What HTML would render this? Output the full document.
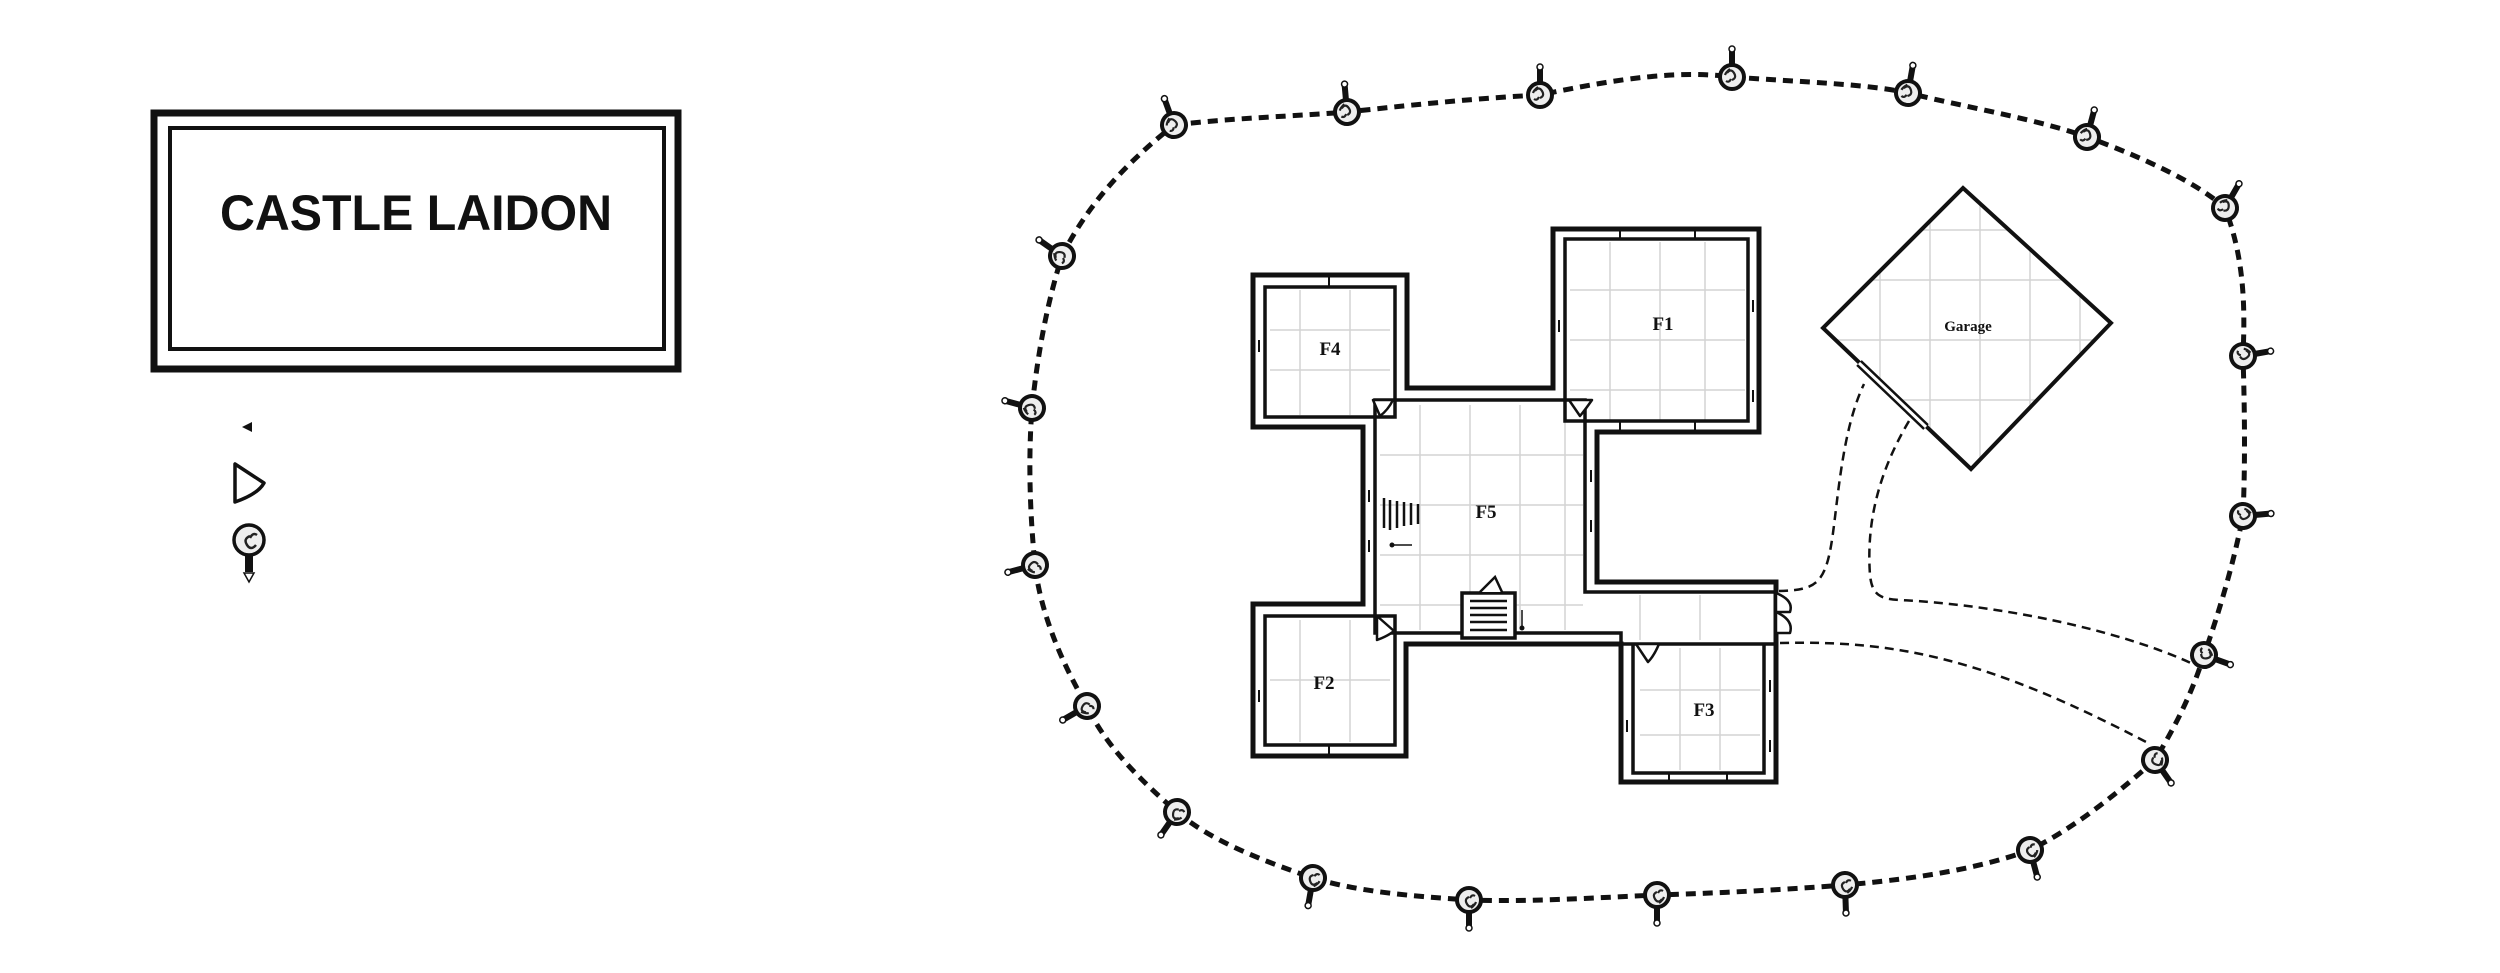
<!DOCTYPE html>
<html><head><meta charset="utf-8"><style>
html,body{margin:0;padding:0;background:#fff;}
svg{display:block;}
</style></head><body>
<svg width="2500" height="973" viewBox="0 0 2500 973" xmlns="http://www.w3.org/2000/svg">
<defs>
<g id="bulb">
  <rect x="-3" y="-27" width="6" height="14" fill="#111"/>
  <circle cx="0" cy="-28" r="3" fill="#fff" stroke="#111" stroke-width="1.5"/>
  <circle cx="0" cy="0" r="12" fill="#eee" stroke="#111" stroke-width="4"/>
  <path d="M-5,-4 q4,-5 7,0 q3,5 -2,7 M-6,4 q3,2 5,-2 M-2,-8 q-4,3 -5,6" fill="none" stroke="#222" stroke-width="2.2"/>
</g>
<clipPath id="gclip"><polygon points="1963,188 2111,323 1971,469 1823,328"/></clipPath>
</defs>

<!-- Title -->
<rect x="154" y="113" width="524" height="256" fill="none" stroke="#111" stroke-width="7"/>
<rect x="170" y="128" width="494" height="221" fill="none" stroke="#111" stroke-width="4"/>
<text x="416" y="230" text-anchor="middle" font-family="Liberation Sans, sans-serif" font-weight="bold" font-size="50" textLength="392" lengthAdjust="spacingAndGlyphs" fill="#111">CASTLE LAIDON</text>

<!-- Legend -->
<polygon points="242,427 252,422 252,432" fill="#111"/>
<path d="M235,464 L235,502 Q258,494 264,483 Z" fill="none" stroke="#111" stroke-width="3.5" stroke-linejoin="round"/>
<g transform="translate(249,540) rotate(180)">
  <rect x="-4" y="-32" width="8" height="20" fill="#111"/>
  <polygon points="-5,-33 5,-33 0,-42" fill="#fff" stroke="#111" stroke-width="1.5"/>
  <circle cx="0" cy="0" r="15" fill="#eee" stroke="#111" stroke-width="3.5"/>
  <path d="M-7,-5 q5,-6 9,0 q4,6 -3,9 M-8,5 q4,3 7,-3" fill="none" stroke="#222" stroke-width="2.5"/>
</g>

<!-- grid lines -->
<g stroke="#d4d4d4" stroke-width="1.5" fill="none">
  <path d="M1300,290 V415 M1350,290 V415 M1270,330 H1390 M1270,370 H1390"/>
  <path d="M1610,242 V420 M1660,242 V420 M1705,242 V420 M1570,290 H1745 M1570,340 H1745 M1570,390 H1745"/>
  <path d="M1420,405 V630 M1470,405 V630 M1520,405 V630 M1565,405 V630 M1380,455 H1583 M1380,505 H1583 M1380,555 H1583 M1380,605 H1583 M1640,595 V640 M1700,595 V640"/>
  <path d="M1300,620 V742 M1350,620 V742 M1270,680 H1390"/>
  <path d="M1680,648 V770 M1720,648 V770 M1640,690 H1760 M1640,735 H1760"/>
  <g clip-path="url(#gclip)">
    <path d="M1880,180 V480 M1930,180 V480 M1980,180 V480 M2030,180 V480 M2080,180 V480 M1820,230 H2120 M1820,280 H2120 M1820,340 H2120 M1820,400 H2120"/>
  </g>
</g>

<!-- building walls -->
<polygon points="1253,275 1407,275 1407,388 1553,388 1553,229 1759,229 1759,432 1597,432 1597,582 1776,582 1776,782 1621,782 1621,644 1406,644 1406,756 1253,756 1253,604 1363,604 1363,427 1253,427" fill="none" stroke="#111" stroke-width="5" stroke-linejoin="miter"/>
<g fill="none" stroke="#111" stroke-width="3.5">
  <rect x="1265" y="287" width="130" height="130"/>
  <rect x="1565" y="239" width="183" height="182"/>
  <rect x="1265" y="616" width="130" height="129"/>
  <polyline points="1633,644 1633,773 1764,773 1764,644"/>
  <polyline points="1776,592 1585,592 1585,400 1375,400 1375,633 1621,633 1621,644"/>
  <line x1="1621" y1="644" x2="1776" y2="644"/>
</g>
<g stroke="#111" stroke-width="2">
  <path d="M1329,275 V287 M1620,229 V239 M1695,229 V239 M1259,340 V352 M1329,745 V756 M1259,690 V702 M1591,470 V482 M1591,520 V532 M1369,490 V502 M1369,540 V552 M1669,773 V782 M1727,773 V782 M1627,720 V732 M1770,680 V692 M1770,740 V752 M1753,300 V312 M1753,390 V402 M1559,320 V332 M1620,421 V432 M1695,421 V432"/>
</g>

<!-- door triangles -->
<g fill="#fff" stroke="#111" stroke-width="2.5" stroke-linejoin="round">
  <path d="M1373,400 L1393,400 Q1388,410 1380,416 Z"/>
  <path d="M1569,400 L1592,400 Q1585,410 1580,416 Z"/>
  <path d="M1377,616 L1377,640 Q1388,636 1394,631 Z"/>
  <path d="M1636,644 L1659,644 Q1654,656 1648,662 Z"/>
  <path d="M1776,593 Q1794,600 1790,612 L1776,612 Z"/>
  <path d="M1776,612 Q1794,620 1790,633 L1776,633 Z"/>
</g>

<!-- stairs -->
<rect x="1462" y="593" width="53" height="45" fill="#fff" stroke="#111" stroke-width="3.5"/>
<g stroke="#111" stroke-width="2.5">
  <path d="M1470,601 H1507 M1470,608 H1507 M1470,615 H1507 M1470,622 H1507 M1470,630 H1507"/>
</g>
<path d="M1480,592 L1495,577 L1502,592" fill="#fff" stroke="#111" stroke-width="2.5"/>
<path d="M1522,610 V626" stroke="#111" stroke-width="1.5"/><circle cx="1522" cy="628" r="2.5" fill="#111"/>
<g stroke="#111" stroke-width="2.5">
  <path d="M1384,498 V528 M1390,500 V530 M1397,501 V528 M1404,502 V526 M1411,503 V525 M1418,504 V524"/>
</g>
<path d="M1392,545 H1412" stroke="#111" stroke-width="1.5"/><circle cx="1392" cy="545" r="2.5" fill="#111"/>

<!-- room labels -->
<g font-family="Liberation Serif, serif" font-weight="bold" font-size="19" fill="#111" text-anchor="middle">
  <text x="1330" y="355">F4</text>
  <text x="1663" y="330">F1</text>
  <text x="1486" y="518">F5</text>
  <text x="1324" y="689">F2</text>
  <text x="1704" y="716">F3</text>
</g>

<!-- garage -->
<polygon points="1963,188 2111,323 1971,469 1823,328" fill="none" stroke="#111" stroke-width="4" stroke-linejoin="miter"/>
<line x1="1859" y1="363" x2="1926" y2="427" stroke="#111" stroke-width="8"/>
<line x1="1859" y1="363" x2="1926" y2="427" stroke="#fff" stroke-width="3"/>
<text x="1968" y="331" text-anchor="middle" font-family="Liberation Serif, serif" font-weight="bold" font-size="15" fill="#111">Garage</text>

<!-- inner dashed paths -->
<g fill="none" stroke="#111" stroke-width="2.5" stroke-dasharray="9,6">
  <path d="M1779,591 C1815,590 1825,585 1832,540 C1838,500 1842,430 1864,384"/>
  <path d="M1909,421 C1880,470 1866,520 1870,575 C1872,595 1880,599 1900,600 C2000,605 2120,630 2193,664"/>
  <path d="M1780,643 C1900,640 1990,660 2150,744"/>
</g>

<!-- perimeter dashed loop -->
<path d="M1174,125 C1230,118 1300,116 1347,112 C1420,104 1480,98 1540,95 C1620,78 1680,70 1732,77 C1800,82 1870,84 1908,93 C1970,108 2040,120 2087,137 C2150,160 2200,185 2225,208 C2245,260 2245,310 2243,356 C2245,420 2245,470 2243,516 C2232,570 2218,615 2204,655 C2190,700 2170,735 2155,760 C2110,800 2070,830 2030,850 C1970,872 1900,880 1845,885 C1780,890 1720,893 1657,895 C1590,898 1530,902 1469,900 C1410,896 1360,892 1313,878 C1260,860 1210,840 1177,812 C1140,780 1105,745 1087,706 C1060,660 1040,610 1035,565 C1030,515 1028,460 1032,408 C1038,350 1048,300 1062,256 C1090,200 1130,160 1174,125 Z" fill="none" stroke="#111" stroke-width="5" stroke-dasharray="10,7"/>

<use href="#bulb" transform="translate(1174,125) rotate(-20)"/>
<use href="#bulb" transform="translate(1347,112) rotate(-5)"/>
<use href="#bulb" transform="translate(1540,95) rotate(0)"/>
<use href="#bulb" transform="translate(1732,77) rotate(0)"/>
<use href="#bulb" transform="translate(1908,93) rotate(10)"/>
<use href="#bulb" transform="translate(2087,137) rotate(15)"/>
<use href="#bulb" transform="translate(2225,208) rotate(30)"/>
<use href="#bulb" transform="translate(2243,356) rotate(80)"/>
<use href="#bulb" transform="translate(2243,516) rotate(85)"/>
<use href="#bulb" transform="translate(2204,655) rotate(110)"/>
<use href="#bulb" transform="translate(2155,760) rotate(145)"/>
<use href="#bulb" transform="translate(2030,850) rotate(165)"/>
<use href="#bulb" transform="translate(1845,885) rotate(178)"/>
<use href="#bulb" transform="translate(1657,895) rotate(180)"/>
<use href="#bulb" transform="translate(1469,900) rotate(180)"/>
<use href="#bulb" transform="translate(1313,878) rotate(190)"/>
<use href="#bulb" transform="translate(1177,812) rotate(215)"/>
<use href="#bulb" transform="translate(1087,706) rotate(240)"/>
<use href="#bulb" transform="translate(1035,565) rotate(255)"/>
<use href="#bulb" transform="translate(1032,408) rotate(285)"/>
<use href="#bulb" transform="translate(1062,256) rotate(305)"/>
</svg>
</body></html>
